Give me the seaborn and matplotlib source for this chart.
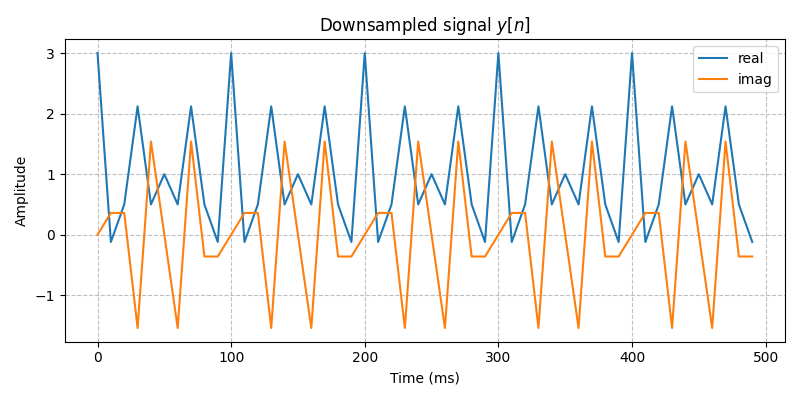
import matplotlib
matplotlib.use("Agg")
import matplotlib.pyplot as plt
import seaborn as sns

# Data (50 samples, 10 ms apart)
time_ms = [0, 10, 20, 30, 40, 50, 60, 70, 80, 90,
           100, 110, 120, 130, 140, 150, 160, 170, 180, 190,
           200, 210, 220, 230, 240, 250, 260, 270, 280, 290,
           300, 310, 320, 330, 340, 350, 360, 370, 380, 390,
           400, 410, 420, 430, 440, 450, 460, 470, 480, 490]
real_vals = [3.0, -0.12, 0.5, 2.12, 0.5, 1.0, 0.5, 2.12, 0.5, -0.12,
             3.0, -0.12, 0.5, 2.12, 0.5, 1.0, 0.5, 2.12, 0.5, -0.12,
             3.0, -0.12, 0.5, 2.12, 0.5, 1.0, 0.5, 2.12, 0.5, -0.12,
             3.0, -0.12, 0.5, 2.12, 0.5, 1.0, 0.5, 2.12, 0.5, -0.12,
             3.0, -0.12, 0.5, 2.12, 0.5, 1.0, 0.5, 2.12, 0.5, -0.12]
imag_vals = [0.0, 0.36, 0.36, -1.54, 1.54, 0.0, -1.54, 1.54, -0.36, -0.36,
             0.0, 0.36, 0.36, -1.54, 1.54, 0.0, -1.54, 1.54, -0.36, -0.36,
             0.0, 0.36, 0.36, -1.54, 1.54, 0.0, -1.54, 1.54, -0.36, -0.36,
             0.0, 0.36, 0.36, -1.54, 1.54, 0.0, -1.54, 1.54, -0.36, -0.36,
             0.0, 0.36, 0.36, -1.54, 1.54, 0.0, -1.54, 1.54, -0.36, -0.36]

fig, ax = plt.subplots(figsize=(8, 4), dpi=100)
sns.lineplot(x=time_ms, y=real_vals, ax=ax, label='real', color='#1f77b4', linewidth=1.5)
sns.lineplot(x=time_ms, y=imag_vals, ax=ax, label='imag', color='#ff7f0e', linewidth=1.5)

ax.set_title('Downsampled signal $y[n]$')
ax.set_xlabel('Time (ms)')
ax.set_ylabel('Amplitude')
ax.grid(True, linestyle='--', alpha=0.8)
ax.legend(loc='upper right')
fig.tight_layout()
fig.savefig('out.png')
